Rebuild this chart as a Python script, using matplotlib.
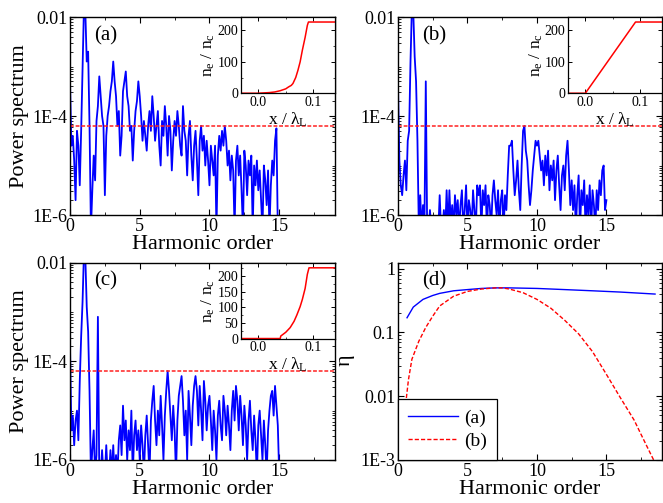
import numpy as np
import matplotlib
matplotlib.use("Agg")
import matplotlib.pyplot as plt
from matplotlib.ticker import FixedLocator, NullFormatter, LogLocator, MultipleLocator

plt.rcParams['font.family'] = ['Liberation Serif', 'DejaVu Serif']
plt.rcParams['mathtext.fontset'] = 'custom'
plt.rcParams['mathtext.rm'] = 'Liberation Serif'
plt.rcParams['mathtext.it'] = 'Liberation Serif:italic'
plt.rcParams['mathtext.default'] = 'regular'

# ---------------- data ----------------
harm = np.round(np.arange(0, 151) * 0.1, 1)

logP_a = [-3.3, -4.6, -4.4, -4.9, -5.7, -4.3, -4.6, -5.4, -4.3, -3.0,
          -1.8, -1.9, -2.9, -2.7, -4.2, -6.3, -5.5, -4.8, -5.3, -4.1,
          -3.8, -3.2, -3.6, -4.0, -4.2, -5.6, -4.4, -4.0, -3.8, -3.5,
          -3.3, -2.9, -3.3, -3.6, -4.2, -3.9, -4.8, -4.4, -3.5, -3.3,
          -3.1, -3.6, -3.8, -4.3, -4.2, -4.9, -4.3, -3.9, -3.7, -3.3,
          -3.6, -4.0, -4.5, -4.1, -4.4, -4.7, -4.2, -3.9, -4.3, -3.6,
          -4.0, -4.5, -4.2, -3.9, -4.6, -5.0, -4.1, -4.4, -3.8, -4.2,
          -4.8, -4.0, -4.3, -5.1, -4.5, -4.1, -4.4, -3.9, -4.2, -4.6,
          -4.8, -3.8, -4.3, -4.5, -5.2, -4.4, -4.1, -4.8, -5.3, -4.6,
          -4.3, -4.9, -5.6, -4.5, -4.2, -4.7, -4.4, -5.0, -4.5, -4.9,
          -5.4, -4.6, -4.9, -5.2, -4.6, -6.3, -4.8, -4.4, -4.7, -4.3,
          -4.6, -4.2, -4.5, -5.0, -4.7, -5.3, -4.8, -5.1, -6.3, -4.9,
          -4.6, -5.2, -4.8, -5.5, -6.3, -4.7, -5.0, -5.6, -4.9, -5.2,
          -4.8, -6.3, -5.0, -5.4, -4.9, -5.5, -5.1, -5.7, -6.3, -5.0,
          -5.3, -5.8, -5.1, -6.3, -5.4, -4.9, -5.2, -4.5, -4.25, -6.3,
          -6.3]

logP_b = [-3.4, -4.9, -5.4, -5.6, -5.2, -4.9, -5.5, -4.5, -4.3, -2.9,
          -1.8, -1.9, -2.8, -3.3, -4.5, -6.3, -5.6, -6.3, -5.8, -6.3,
          -3.3, -6.3, -6.3, -5.9, -6.3, -6.3, -6.3, -6.3, -6.3, -6.3,
          -5.6, -6.3, -6.3, -5.9, -6.3, -5.5, -6.3, -5.5, -6.2, -5.8,
          -6.3, -5.6, -6.0, -5.7, -6.3, -5.8, -5.5, -6.3, -5.9, -5.4,
          -6.3, -5.7, -5.9, -6.3, -5.5, -5.9, -6.3, -5.4, -5.6, -5.4,
          -6.3, -5.5, -5.8, -5.4, -6.3, -5.6, -5.8, -6.3, -5.6, -5.3,
          -5.7, -6.0, -5.5, -6.3, -5.7, -5.5, -6.3, -5.6, -5.9, -5.2,
          -4.6, -4.6, -4.5, -5.1, -5.6, -5.3, -4.9, -5.5, -5.9, -5.0,
          -4.3, -4.2, -4.7, -4.9, -5.4, -5.8, -5.5, -5.1, -4.8, -4.5,
          -4.6, -4.5, -4.8, -5.1, -4.9, -5.4, -4.8, -5.2, -4.7, -5.5,
          -5.0, -5.3, -4.9, -5.7, -5.1, -4.8, -5.4, -5.9, -5.2, -5.0,
          -5.5, -4.8, -4.5, -5.1, -5.8, -5.3, -5.9, -5.4, -6.3, -5.6,
          -5.2, -6.3, -5.5, -5.8, -5.3, -6.3, -5.6, -6.0, -5.4, -6.3,
          -5.5, -5.8, -6.3, -5.5, -5.9, -5.3, -5.6, -5.1, -5.0, -5.9,
          -5.7]

logP_c = [-3.7, -5.4, -5.1, -5.7, -5.2, -5.0, -5.6, -4.4, -3.5, -2.8,
          -1.8, -1.9, -2.9, -3.4, -4.6, -6.3, -5.8, -5.4, -6.3, -5.9,
          -3.1, -6.3, -6.3, -5.8, -6.3, -6.3, -5.7, -6.3, -6.3, -5.8,
          -6.3, -5.7, -6.3, -5.9, -6.3, -5.6, -5.3, -5.9, -4.9, -5.6,
          -5.2, -6.0, -5.4, -5.8, -5.0, -6.3, -5.5, -5.2, -5.8, -5.4,
          -6.0, -5.3, -5.7, -6.3, -5.5, -5.1, -5.7, -6.3, -5.2, -4.8,
          -4.5, -5.2, -5.7, -5.0, -5.5, -4.7, -5.3, -6.0, -5.1, -4.6,
          -4.2, -4.6, -5.1, -5.6, -4.9, -5.4, -6.3, -5.2, -4.7, -4.5,
          -4.3, -4.8, -5.5, -5.0, -6.0, -4.6, -5.1, -5.7, -4.9, -4.5,
          -4.3, -4.6, -5.3, -4.5, -5.0, -5.6, -4.4, -4.8, -5.4, -4.9,
          -4.7, -5.2, -5.8, -5.0, -5.4, -6.0, -5.1, -4.8, -5.3, -5.6,
          -4.7, -5.0, -5.5, -4.9, -5.3, -5.8, -5.0, -4.6, -5.2, -4.5,
          -4.8, -5.4, -4.7, -5.1, -5.7, -4.9, -5.3, -6.0, -5.2, -4.8,
          -5.4, -5.8, -5.1, -5.6, -6.3, -5.3, -5.0, -5.5, -6.0, -5.2,
          -5.7, -6.3, -5.4, -5.0, -4.7, -4.6, -5.1, -4.5, -4.9, -5.3,
          -6.3]

threshold = 6.3e-5

# density profiles for insets
prof_a_x = [-0.03, 0.0, 0.02, 0.03, 0.04, 0.05, 0.055, 0.06, 0.063, 0.068, 0.072, 0.076, 0.08, 0.085, 0.089, 0.091, 0.14]
prof_a_n = [0, 0, 2, 4, 8, 14, 20, 25, 31, 50, 73, 100, 137, 178, 216, 227, 227]
prof_b_x = [-0.03, 0.0, 0.091, 0.14]
prof_b_n = [0, 0, 227, 227]
prof_c_x = [-0.03, 0.04, 0.041, 0.05, 0.058, 0.065, 0.07, 0.076, 0.08, 0.085, 0.089, 0.092, 0.14]
prof_c_n = [0, 0, 8, 20, 35, 55, 75, 102, 125, 160, 205, 226, 226]

# conversion efficiency
eta_a_h = [0.65, 1.1, 1.8, 2.5, 3, 4, 5, 6, 7, 8, 10, 12, 14, 16, 18.5]
eta_a = [0.17, 0.25, 0.33, 0.38, 0.41, 0.45, 0.47, 0.49, 0.50, 0.50, 0.49, 0.47, 0.45, 0.43, 0.40]
eta_b_h = [0.55, 0.75, 1, 1.5, 2, 2.5, 3, 4, 5, 6, 7, 7.5, 8, 9, 10, 11, 12, 13, 14, 15, 16, 17, 17.5, 18, 18.4]
eta_b = [0.0075, 0.018, 0.038, 0.073, 0.12, 0.18, 0.26, 0.37, 0.44, 0.48, 0.50, 0.50, 0.48, 0.42, 0.33,
         0.24, 0.155, 0.095, 0.05, 0.022, 0.0095, 0.0042, 0.0025, 0.0015, 0.001]

panel_labels = ['(a)', '(b)', '(c)', '(d)']
legend_labels = ['(a)', '(b)']

# ---------------- figure ----------------
fig = plt.figure(figsize=(6.63, 5.03), dpi=100)
W, H = 663, 503

def add_ax(l, t, r, b):
    return fig.add_axes([l / W, 1 - b / H, (r - l) / W, (b - t) / H])

ax_a = add_ax(70, 17, 335, 215)
ax_b = add_ax(398, 17, 662, 215)
ax_c = add_ax(70, 262.5, 335, 460)
ax_d = add_ax(398, 262.5, 662, 460)

TICK_FS = 13
LABEL_FS = 16

def style_main(ax):
    ax.set_xlim(0, 19)
    ax.xaxis.set_major_locator(FixedLocator([0, 5, 10, 15]))
    ax.xaxis.set_minor_locator(MultipleLocator(2.5))
    ax.tick_params(which='both', direction='in', top=True, right=True, labelsize=TICK_FS)
    ax.tick_params(which='major', length=4, width=0.8, pad=2)
    ax.tick_params(which='minor', length=2, width=0.6)
    for s in ax.spines.values():
        s.set_linewidth(1.0)
    ax.set_xlabel('Harmonic order', fontsize=LABEL_FS, labelpad=0)

def style_spec(ax):
    ax.set_yscale('log')
    ax.set_ylim(1e-6, 1e-2)
    ax.yaxis.set_major_locator(FixedLocator([1e-6, 1e-4, 1e-2]))
    ax.set_yticklabels(['1E-6', '1E-4', '0.01'])
    ax.yaxis.set_minor_locator(LogLocator(base=10, subs=np.arange(1, 10), numticks=20))
    ax.yaxis.set_minor_formatter(NullFormatter())

spec_axes = [ax_a, ax_b, ax_c]
spec_data = [logP_a, logP_b, logP_c]
profiles = [(prof_a_x, prof_a_n, [0, 100, 200]),
            (prof_b_x, prof_b_n, [0, 100, 200]),
            (prof_c_x, prof_c_n, [0, 50, 100, 150, 200])]

for i, (ax, lp) in enumerate(zip(spec_axes, spec_data)):
    ax.plot(harm, 10 ** np.array(lp), color='#0000ff', lw=1.3)
    ax.axhline(threshold, color='#ff2020', lw=1.1, ls=(0, (2.5, 1.2)))
    style_main(ax)
    style_spec(ax)
    ax.text(0.09, 0.955, panel_labels[i], transform=ax.transAxes, fontsize=15, va='top', ha='left')
    if i != 1:
        ax.set_ylabel('Power spectrum', fontsize=LABEL_FS, labelpad=2)
    # inset
    px, pn, yt = profiles[i]
    ins = ax.inset_axes([0.645, 0.615, 0.355, 0.385])
    ins.plot(px, pn, color='#ff0000', lw=1.1)
    ins.set_xlim(-0.031, 0.139)
    ins.set_ylim(0, 243)
    ins.xaxis.set_major_locator(FixedLocator([0.0, 0.1]))
    ins.set_xticklabels(['0.0', '0.1'])
    ins.xaxis.set_minor_locator(FixedLocator([0.05]))
    ins.yaxis.set_major_locator(FixedLocator(yt))
    ins.yaxis.set_minor_locator(MultipleLocator(50 if len(yt) == 3 else 25))
    ins.tick_params(which='both', direction='in', labelsize=10, top=True, right=True, pad=2)
    ins.tick_params(which='major', length=3, width=0.7)
    ins.tick_params(which='minor', length=1.5, width=0.5)
    ins.set_xlabel(r'x / $\lambda_L$', fontsize=12.5, labelpad=1)
    ins.set_ylabel(r'$n_e$ / $n_c$', fontsize=12.5, labelpad=0)
    for s in ins.spines.values():
        s.set_linewidth(0.9)

# panel (d)
ax_d.plot(eta_a_h, eta_a, color='#0000ff', lw=1.0, label=legend_labels[0])
ax_d.plot(eta_b_h, eta_b, color='#ff0000', lw=1.0, ls=(0, (3, 1.5)), label=legend_labels[1])
style_main(ax_d)
ax_d.set_yscale('log')
ax_d.set_ylim(1e-3, 1.25)
ax_d.yaxis.set_major_locator(FixedLocator([1e-3, 1e-2, 1e-1, 1]))
ax_d.set_yticklabels(['1E-3', '0.01', '0.1', '1'])
ax_d.yaxis.set_minor_locator(LogLocator(base=10, subs=np.arange(2, 10), numticks=20))
ax_d.yaxis.set_minor_formatter(NullFormatter())
ax_d.set_ylabel(r'$\eta$', fontsize=LABEL_FS, labelpad=2)
ax_d.text(0.09, 0.955, panel_labels[3], transform=ax_d.transAxes, fontsize=15, va='top', ha='left')
leg = ax_d.legend(loc='lower left', borderaxespad=0, fontsize=14, handlelength=2.6,
                  fancybox=False, framealpha=1, edgecolor='black', borderpad=0.5,
                  labelspacing=0.3, handletextpad=0.3)
leg.get_frame().set_linewidth(0.9)

fig.savefig('out.png', dpi=100)
